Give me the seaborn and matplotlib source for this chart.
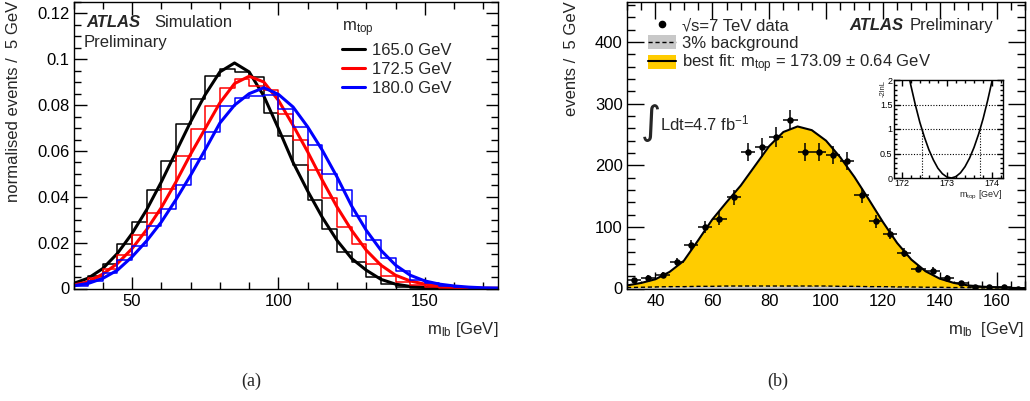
import matplotlib
matplotlib.use("Agg")
import matplotlib.pyplot as plt
import pandas as pd
import seaborn as sns
from matplotlib.ticker import MultipleLocator, FuncFormatter
from matplotlib.lines import Line2D
from matplotlib.patches import Patch
from matplotlib.legend_handler import HandlerTuple

# ---- data (a): normalised m_lb templates, 5 GeV bins from 30 to 175 ----
bin_edges = list(range(30, 180, 5))
hist_165 = [0.0022, 0.0054, 0.0109, 0.0196, 0.0290, 0.0429, 0.0557, 0.0717, 0.0826, 0.0926,
            0.0959, 0.0945, 0.0922, 0.0767, 0.0664, 0.0540, 0.0388, 0.0260, 0.0160, 0.0116,
            0.0051, 0.0019, 0.0008, 0.0004, 0.0002, 0.0001, 0.0001, 0.0, 0.0]
hist_172 = [0.0015, 0.0044, 0.0087, 0.0148, 0.0235, 0.0330, 0.0432, 0.0577, 0.0698, 0.0795,
            0.0876, 0.0913, 0.0882, 0.0868, 0.0763, 0.0650, 0.0519, 0.0395, 0.0269, 0.0196,
            0.0106, 0.0055, 0.0027, 0.0014, 0.0007, 0.0003, 0.0002, 0.0001, 0.0]
hist_180 = [0.0012, 0.0033, 0.0068, 0.0126, 0.0185, 0.0273, 0.0345, 0.0453, 0.0563, 0.0682,
            0.0795, 0.0833, 0.0840, 0.0846, 0.0785, 0.0705, 0.0625, 0.0501, 0.0429, 0.0317,
            0.0210, 0.0131, 0.0075, 0.0039, 0.0022, 0.0012, 0.0006, 0.0003, 0.0002]

curve_x = list(range(30, 180, 5))
curve_165 = [0.0022, 0.0045, 0.0087, 0.0153, 0.0240, 0.0344, 0.0465, 0.0596, 0.0727, 0.0846,
             0.0945, 0.0984, 0.0945, 0.0840, 0.0698, 0.0550, 0.0425, 0.0310, 0.0210, 0.0131,
             0.0080, 0.0040, 0.0019, 0.0009, 0.0004, 0.0002, 0.0001, 0.0001, 0.0, 0.0]
curve_172 = [0.0015, 0.0029, 0.0063, 0.0109, 0.0174, 0.0257, 0.0353, 0.0465, 0.0586, 0.0698,
             0.0810, 0.0894, 0.0926, 0.0901, 0.0821, 0.0712, 0.0596, 0.0472, 0.0356, 0.0254,
             0.0167, 0.0102, 0.0058, 0.0033, 0.0019, 0.0010, 0.0005, 0.0003, 0.0001, 0.0001]
curve_180 = [0.0012, 0.0022, 0.0044, 0.0080, 0.0138, 0.0208, 0.0290, 0.0388, 0.0494, 0.0606,
             0.0722, 0.0800, 0.0850, 0.0876, 0.0847, 0.0792, 0.0705, 0.0603, 0.0487, 0.0360,
             0.0254, 0.0167, 0.0102, 0.0058, 0.0033, 0.0019, 0.0011, 0.0006, 0.0003, 0.0002]
mass_labels = ["165.0 GeV", "172.5 GeV", "180.0 GeV"]
mass_colors = ["black", "#ff0000", "#0000ff"]

# ---- data (b): 7 TeV data, best fit and background ----
data_x = [32.5 + 5 * i for i in range(28)]
data_y = [13.5, 17, 22, 43, 70, 100, 113, 148, 222, 229, 246, 273, 222, 222, 216, 207,
          151, 109, 89, 58, 32, 29, 17, 9, 3, 2, 2, 0]
data_err = [3.7, 4.1, 4.7, 6.6, 8.4, 10.0, 10.6, 12.2, 14.9, 15.1, 15.7, 16.5, 14.9, 14.9,
            14.7, 14.4, 12.3, 10.4, 9.4, 7.6, 5.7, 5.4, 4.1, 3.0, 1.7, 1.4, 1.4, 0]
fit_x = list(range(30, 175, 5))
fit_y = [5, 9, 15, 27, 45, 78, 112, 140, 167, 199, 231, 254, 263, 257, 240, 213, 181, 145,
         108, 74, 47, 28, 16, 9, 5, 3, 1.8, 1.0, 0.6]
bkg_y = [1.5, 2, 2.5, 3, 3, 3.5, 3.5, 4, 4, 4, 4, 4, 4, 4, 4, 3.5, 3.5, 3, 3, 2.5, 2.5,
         2, 2, 1.5, 1.5, 1, 1, 1, 1]

# ---- likelihood scan for the inset ----
scan_m = [172.1, 172.2, 172.3, 172.4, 172.5, 172.6, 172.7, 172.8, 172.9, 173.0, 173.1,
          173.2, 173.3, 173.4, 173.5, 173.6, 173.7, 173.8, 173.9, 174.0, 174.1]
scan_nll = [2.36, 1.90, 1.50, 1.14, 0.84, 0.58, 0.37, 0.20, 0.087, 0.019, 0.0002, 0.029,
            0.106, 0.231, 0.404, 0.625, 0.894, 1.21, 1.58, 1.99, 2.45]
one_sigma = [172.45, 173.73]

W, H = 1030, 401

def fx(x):
    return x / W

def fy(y):
    return 1 - y / H

sns.set_theme(style="ticks")
plt.rcParams["font.family"] = ["Liberation Sans", "DejaVu Sans"]
plt.rcParams["mathtext.fontset"] = "custom"
plt.rcParams["mathtext.rm"] = "Liberation Sans"
plt.rcParams["mathtext.it"] = "Liberation Sans:italic"
plt.rcParams["mathtext.bf"] = "Liberation Sans:bold"

fig = plt.figure(figsize=(10.3, 4.01), dpi=100)


def root_style(ax, major_len=9, minor_len=5, size=12):
    ax.tick_params(which="both", direction="in", top=True, right=True, width=1,
                   colors="black", labelsize=size)
    ax.tick_params(which="major", length=major_len)
    ax.tick_params(which="minor", length=minor_len)
    for s in ax.spines.values():
        s.set_color("black")
        s.set_linewidth(1)


# ================= (a) =================
axL = fig.add_axes([fx(73.5), fy(288.5), 424.5 / W, 286.5 / H])
centers = [e + 2.5 for e in bin_edges[:-1]]
for hist, curve, col, lab in zip([hist_165, hist_172, hist_180],
                                 [curve_165, curve_172, curve_180],
                                 mass_colors, mass_labels):
    df = pd.DataFrame({"mlb": centers, "w": hist})
    sns.histplot(data=df, x="mlb", weights="w", bins=bin_edges, element="step", fill=False,
                 color=col, linewidth=1.1, ax=axL)
    sns.lineplot(x=curve_x, y=curve, color=col, linewidth=2.2, ax=axL, label=lab)

axL.set_xlim(30, 175)
axL.set_ylim(0, 0.125)
axL.xaxis.set_major_locator(MultipleLocator(50))
axL.xaxis.set_minor_locator(MultipleLocator(10))
axL.yaxis.set_major_locator(MultipleLocator(0.02))
axL.yaxis.set_minor_locator(MultipleLocator(0.005))
axL.yaxis.set_major_formatter(FuncFormatter(lambda v, _: f"{v:g}"))
root_style(axL)
axL.tick_params(axis="y", pad=3)
axL.tick_params(axis="x", pad=4)
axL.set_xlabel("")
axL.set_ylabel("")
axL.legend(title=r"m$_{\mathrm{top}}$", loc="upper left", bbox_to_anchor=(0.632, 0.94),
           frameon=False, fontsize=12, title_fontsize=12, alignment="left",
           handlelength=1.4, handletextpad=0.4, labelspacing=0.24, borderpad=0,
           borderaxespad=0)

fig.text(fx(86), fy(27), "ATLAS", fontsize=12, fontweight="bold", fontstyle="italic")
fig.text(fx(154), fy(27), "Simulation", fontsize=12)
fig.text(fx(84), fy(47), "Preliminary", fontsize=12)
fig.text(fx(14), fy(1), "normalised events /  5 GeV", rotation=90, fontsize=12,
         ha="center", va="top")
fig.text(fx(498), fy(334), r"m$_{\mathrm{lb}}$ [GeV]", fontsize=12, ha="right")

# ================= (b) =================
axR = fig.add_axes([fx(627), fy(288.5), 398 / W, 286.5 / H])
axR.fill_between(fit_x, 0, bkg_y, color="#c8c8c8", linewidth=0)
axR.fill_between(fit_x, bkg_y, fit_y, color="#ffcc00", linewidth=0)
axR.plot(fit_x, bkg_y, color="black", linestyle=(0, (3, 2)), linewidth=1)
sns.lineplot(x=fit_x, y=fit_y, color="black", linewidth=1.5, ax=axR)
axR.errorbar(data_x, data_y, yerr=data_err, xerr=2.5, fmt="none", ecolor="black",
             elinewidth=1.1, capsize=0)
sns.scatterplot(x=data_x, y=data_y, color="black", s=22, edgecolor="black",
                linewidth=0, ax=axR, zorder=5)

axR.set_xlim(30, 170)
axR.set_ylim(0, 465)
axR.xaxis.set_major_locator(MultipleLocator(20))
axR.xaxis.set_minor_locator(MultipleLocator(5))
axR.yaxis.set_major_locator(MultipleLocator(100))
axR.yaxis.set_minor_locator(MultipleLocator(20))
root_style(axR, major_len=12, minor_len=6)
axR.tick_params(axis="y", pad=3)
axR.tick_params(axis="x", pad=4)
axR.set_xlabel("")
axR.set_ylabel("")

h_data = Line2D([], [], marker="o", linestyle="none", color="black", markersize=4.5)
h_bkg = (Patch(facecolor="#c8c8c8", edgecolor="none"),
         Line2D([], [], color="black", linestyle=(0, (3, 2)), linewidth=1))
h_fit = (Patch(facecolor="#ffcc00", edgecolor="none"),
         Line2D([], [], color="black", linewidth=1.5))
axR.legend([h_data, h_bkg, h_fit],
           ["\u221as=7 TeV data", "3% background",
            r"best fit: m$_{\mathrm{top}}$ = 173.09 $\pm$ 0.64 GeV"],
           handler_map={tuple: HandlerTuple(ndivide=1, pad=0)},
           loc="upper left", bbox_to_anchor=(0.053, 0.944), frameon=False, fontsize=12,
           handlelength=1.7, handleheight=0.9, handletextpad=0.35, labelspacing=0.1,
           borderpad=0, borderaxespad=0)

fig.text(fx(849), fy(30), "ATLAS", fontsize=12, fontweight="bold", fontstyle="italic")
fig.text(fx(910), fy(30), "Preliminary", fontsize=12)
fig.text(fx(641), fy(134), "\u222b", fontsize=28, family="DejaVu Sans")
fig.text(fx(660), fy(130), r"Ldt=4.7 fb$^{\mathrm{-1}}$", fontsize=12)
fig.text(fx(572), fy(1), "events /  5 GeV", rotation=90, fontsize=12, ha="center", va="top")
fig.text(fx(1024), fy(334), r"m$_{\mathrm{lb}}$  [GeV]", fontsize=12, ha="right")

# ---- inset: -2lnL scan ----
axI = fig.add_axes([fx(894), fy(178), 109 / W, 98 / H])
sns.lineplot(x=scan_m, y=scan_nll, color="black", linewidth=1.2, ax=axI)
for lvl in [0.5, 1.0, 1.5]:
    axI.axhline(lvl, color="black", linestyle=(0, (1, 1.5)), linewidth=0.8)
for m in one_sigma:
    axI.plot([m, m], [0, 1], color="black", linestyle=(0, (1, 1.5)), linewidth=0.8)
axI.set_xlim(171.83, 174.24)
axI.set_ylim(0, 2)
axI.xaxis.set_major_locator(MultipleLocator(1))
axI.xaxis.set_minor_locator(MultipleLocator(0.2))
axI.yaxis.set_major_locator(MultipleLocator(0.5))
axI.yaxis.set_minor_locator(MultipleLocator(0.1))
axI.yaxis.set_major_formatter(FuncFormatter(lambda v, _: f"{v:g}"))
root_style(axI, major_len=4, minor_len=2, size=6.5)
axI.tick_params(axis="both", pad=1)
axI.set_xlabel("")
axI.set_ylabel("")
fig.text(fx(1003), fy(198), r"m$_{\mathrm{top}}$ [GeV]", fontsize=6.5, ha="right")
fig.text(fx(883), fy(80), "-2lnL", fontsize=5.5, rotation=90, ha="center", va="top")

# ---- captions ----
fig.text(fx(251), fy(381), "(a)", fontsize=13, family="Liberation Serif", ha="center", va="center")
fig.text(fx(778), fy(381), "(b)", fontsize=13, family="Liberation Serif", ha="center", va="center")

fig.savefig("out.png", dpi=100)
